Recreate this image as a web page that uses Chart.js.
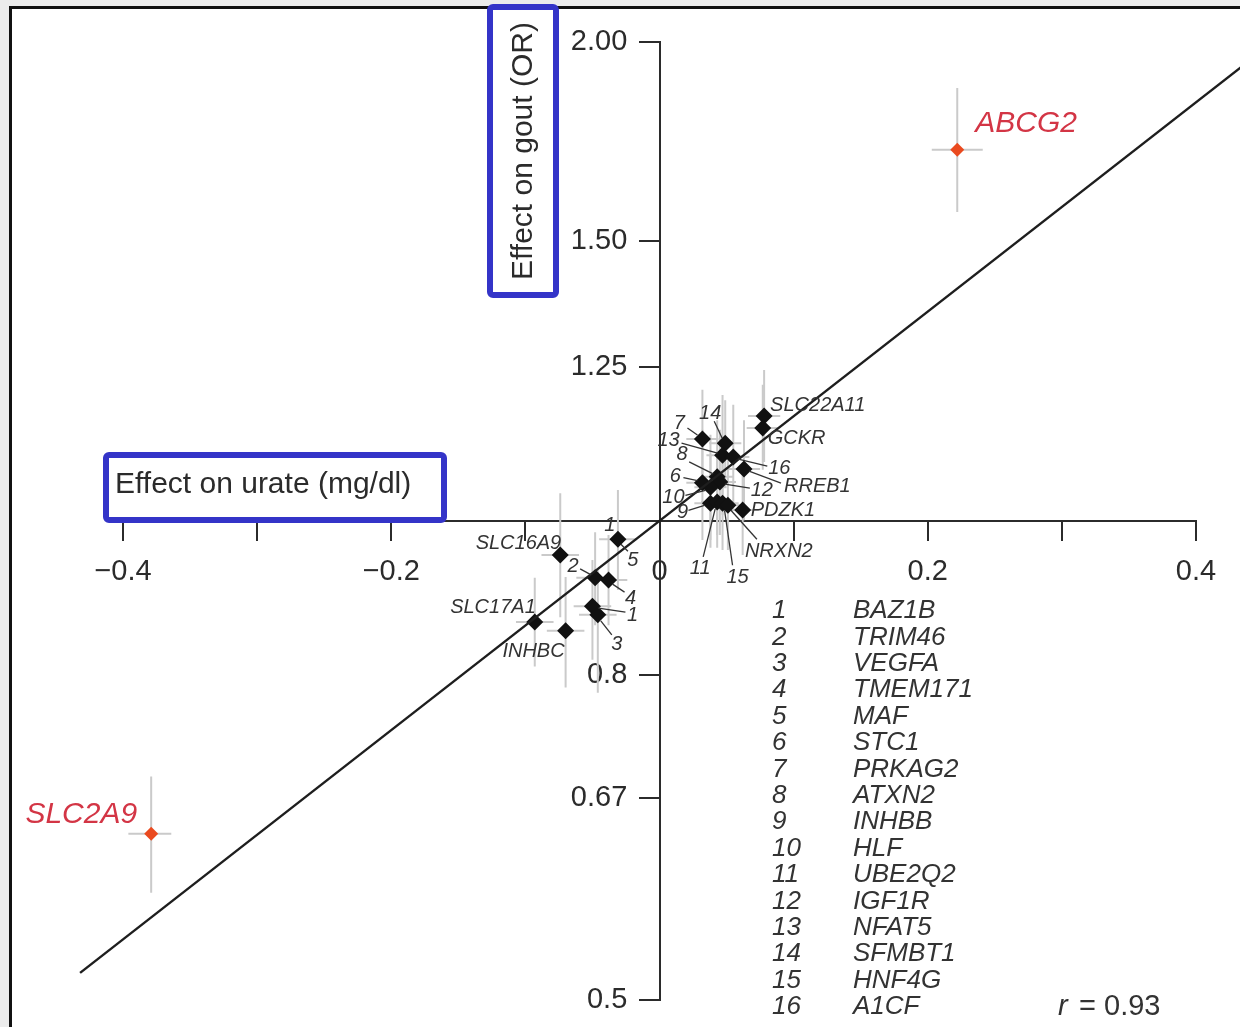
<!DOCTYPE html>
<html>
<head>
<meta charset="utf-8">
<title>Urate vs gout</title>
<script src="https://cdn.jsdelivr.net/npm/chart.js@4.4.1/dist/chart.umd.min.js"></script>
<style>
  html, body { margin: 0; padding: 0; background: #ececec; overflow: hidden; }
  #paper { position: absolute; left: 9px; top: 6px; width: 1240px; height: 1030px; background: #fff;
           border-left: 3px solid #111; border-top: 3px solid #111; }
  #wrap { position: absolute; left: 0; top: 0; width: 1240px; height: 1027px; }
</style>
</head>
<body>
<div id="paper"></div>
<div id="wrap"><canvas id="gout"></canvas></div>
<script>
// loci (black diamonds)
const genes   = ['SLC22A11','GCKR','PRKAG2','SFMBT1','NFAT5','A1CF','RREB1','ATXN2','STC1','IGF1R','HLF','INHBB',
                 'UBE2Q2','HNF4G','NRXN2','PDZK1','MAF','SLC16A9','TRIM46','TMEM171','BAZ1B','VEGFA','SLC17A1','INHBC'];
const urate   = [0.078, 0.077, 0.032, 0.049, 0.047, 0.055, 0.063, 0.043, 0.032, 0.045, 0.038, 0.038,
                 0.043, 0.047, 0.051, 0.062, -0.031, -0.074, -0.048, -0.038, -0.050, -0.046, -0.093, -0.070];
const goutOR  = [1.164, 1.144, 1.126, 1.119, 1.100, 1.097, 1.078, 1.066, 1.057, 1.058, 1.050, 1.026,
                 1.028, 1.026, 1.023, 1.016, 0.974, 0.952, 0.921, 0.918, 0.884, 0.873, 0.864, 0.853];
const orLo    = [1.089, 1.077, 1.046, 1.050, 1.009, 1.016, 1.001, 0.980, 0.973, 0.980, 0.973, 0.962,
                 0.962, 0.959, 0.959, 0.952, 0.905, 0.870, 0.860, 0.860, 0.818, 0.780, 0.810, 0.786];
const orHi    = [1.244, 1.218, 1.209, 1.191, 1.200, 1.183, 1.157, 1.157, 1.141, 1.141, 1.133, 1.100,
                 1.100, 1.100, 1.092, 1.084, 1.046, 1.041, 0.984, 0.980, 0.945, 0.932, 0.921, 0.922];
const urateLo = [0.066, 0.065, 0.020, 0.037, 0.035, 0.043, 0.051, 0.031, 0.020, 0.033, 0.026, 0.026,
                 0.031, 0.035, 0.039, 0.050, -0.045, -0.088, -0.062, -0.052, -0.064, -0.060, -0.107, -0.084];
const urateHi = [0.090, 0.089, 0.044, 0.061, 0.059, 0.067, 0.075, 0.055, 0.044, 0.057, 0.050, 0.050,
                 0.055, 0.059, 0.063, 0.074, -0.017, -0.060, -0.034, -0.024, -0.036, -0.032, -0.079, -0.056];

// the two big loci (red)
const majorGenes = ['ABCG2', 'SLC2A9'];
const majorUrate = [0.222, -0.379];
const majorOR    = [1.711, 0.636];
const majorORLo  = [1.564, 0.584];
const majorORHi  = [1.871, 0.691];
const majorULo   = [0.203, -0.396];
const majorUHi   = [0.241, -0.364];

// fitted line
const fitX  = [-0.432, 0.44];
const fitOR = [0.520, 1.947];

// axes
const xTicks = [-0.4, -0.3, -0.2, -0.1, 0, 0.1, 0.2, 0.3, 0.4];
const xTickLabels = ['\u22120.4', '', '\u22120.2', '', '0', '', '0.2', '', '0.4'];
const yTicks = [0.5, 0.67, 0.8, 1.25, 1.5, 2.0];
const yTickLabels = ['0.5', '0.67', '0.8', '1.25', '1.50', '2.00'];

// number key
const keyNo    = ['1','2','3','4','5','6','7','8','9','10','11','12','13','14','15','16'];
const keyGenes = ['BAZ1B','TRIM46','VEGFA','TMEM171','MAF','STC1','PRKAG2','ATXN2','INHBB','HLF',
                  'UBE2Q2','IGF1R','NFAT5','SFMBT1','HNF4G','A1CF'];

// label placement (pixel offsets from the point), leader line offsets [x1,y1,x2,y2]
const callouts = [
  { gene: 'SLC22A11', text: 'SLC22A11', dx: 6, dy: -11, align: 'left' },
  { gene: 'GCKR', text: 'GCKR', dx: 5, dy: 10, align: 'left' },
  { gene: 'PRKAG2', text: '7', dx: -23, dy: -16, line: [-15, -11, -5, -4] },
  { gene: 'SFMBT1', text: '14', dx: -15, dy: -30, line: [-11, -22, -3, -5] },
  { gene: 'NFAT5', text: '13', dx: -54, dy: -15, line: [-41, -12, -5, -2] },
  { gene: 'A1CF', text: '16', dx: 46, dy: 11, line: [5, 2, 34, 9] },
  { gene: 'RREB1', text: 'RREB1', dx: 40, dy: 17, align: 'left', line: [5, 2, 37, 14] },
  { gene: 'ATXN2', text: '8', dx: -35, dy: -22, line: [-28, -15, -4, -3] },
  { gene: 'STC1', text: '6', dx: -27, dy: -6, line: [-19, -5, -5, -2] },
  { gene: 'IGF1R', text: '12', dx: 42, dy: 8, line: [5, 2, 30, 6] },
  { gene: 'HLF', text: '10', dx: -37, dy: 10, line: [-25, 8, -5, 3] },
  { gene: 'INHBB', text: '9', dx: -28, dy: 9, line: [-22, 7, -6, 2] },
  { gene: 'UBE2Q2', text: '11', dx: -17, dy: 67, line: [-14, 55, -2, 7] },
  { gene: 'HNF4G', text: '15', dx: 15, dy: 74, line: [10, 62, 2, 7] },
  { gene: 'NRXN2', text: 'NRXN2', dx: 17, dy: 46, align: 'left', line: [3, 5, 29, 34] },
  { gene: 'PDZK1', text: 'PDZK1', dx: 8, dy: 0, align: 'left' },
  { gene: 'MAF', text: '5', dx: 15, dy: 21, line: [3, 5, 10, 12] },
  { gene: 'MAF', text: '1', dx: -8, dy: -14 },
  { gene: 'SLC16A9', text: 'SLC16A9', dx: 1, dy: -12, align: 'right' },
  { gene: 'TRIM46', text: '2', dx: -22, dy: -11, line: [-15, -9, -4, -3] },
  { gene: 'TMEM171', text: '4', dx: 22, dy: 18, line: [4, 4, 16, 12] },
  { gene: 'BAZ1B', text: '1', dx: 40, dy: 9, line: [6, 2, 33, 6] },
  { gene: 'VEGFA', text: '3', dx: 19, dy: 30, line: [3, 6, 14, 20] },
  { gene: 'SLC17A1', text: 'SLC17A1', dx: 1, dy: -15, align: 'right' },
  { gene: 'INHBC', text: 'INHBC', dx: -1, dy: 21, align: 'right' }
];
const majorCallouts = [
  { text: 'ABCG2', dx: 18, dy: -26, align: 'left' },
  { text: 'SLC2A9', dx: -14, dy: -19, align: 'right' }
];

const FONT = '"Liberation Sans", Arial, Helvetica, sans-serif';
const ink = '#2b2b2b';

// error bars under the points
const errorBars = {
  id: 'errorBars',
  beforeDatasetsDraw(chart) {
    const { ctx, scales: { x, y } } = chart;
    ctx.save();
    ctx.strokeStyle = '#cacaca';
    ctx.lineWidth = 2;
    const bars = (u, g, uL, uH, gL, gH) => {
      u.forEach((v, i) => {
        const px = x.getPixelForValue(v), py = y.getPixelForValue(g[i]);
        ctx.beginPath();
        ctx.moveTo(px, y.getPixelForValue(gL[i]));
        ctx.lineTo(px, y.getPixelForValue(gH[i]));
        ctx.moveTo(x.getPixelForValue(uL[i]), py);
        ctx.lineTo(x.getPixelForValue(uH[i]), py);
        ctx.stroke();
      });
    };
    bars(urate, goutOR, urateLo, urateHi, orLo, orHi);
    bars(majorUrate, majorOR, majorULo, majorUHi, majorORLo, majorORHi);
    ctx.restore();
  }
};

// gene labels + leader lines
const geneLabels = {
  id: 'geneLabels',
  afterDatasetsDraw(chart) {
    const ctx = chart.ctx;
    const pts = chart.getDatasetMeta(1).data;
    const big = chart.getDatasetMeta(2).data;
    ctx.save();
    ctx.textBaseline = 'middle';
    ctx.strokeStyle = '#333';
    ctx.lineWidth = 1.3;
    ctx.fillStyle = '#333';
    ctx.font = 'italic 20px ' + FONT;
    callouts.forEach(c => {
      const p = pts[genes.indexOf(c.gene)];
      if (c.line) {
        ctx.beginPath();
        ctx.moveTo(p.x + c.line[0], p.y + c.line[1]);
        ctx.lineTo(p.x + c.line[2], p.y + c.line[3]);
        ctx.stroke();
      }
      ctx.textAlign = c.align || 'center';
      ctx.fillText(c.text, p.x + c.dx, p.y + c.dy);
    });
    ctx.fillStyle = '#d33545';
    ctx.font = 'italic 30px ' + FONT;
    majorCallouts.forEach((c, i) => {
      const p = big[i];
      ctx.textAlign = c.align;
      ctx.fillText(c.text, p.x + c.dx, p.y + c.dy);
    });
    ctx.restore();
  }
};

// axis titles in blue boxes, key and r
const extras = {
  id: 'extras',
  afterDraw(chart) {
    const ctx = chart.ctx;
    ctx.save();
    const box = (x, y, w, h) => {
      ctx.fillStyle = '#fff';
      ctx.fillRect(x, y, w, h);
      ctx.strokeStyle = '#3434c8';
      ctx.lineWidth = 6;
      ctx.beginPath();
      if (ctx.roundRect) ctx.roundRect(x, y, w, h, 3); else ctx.rect(x, y, w, h);
      ctx.stroke();
    };
    box(490, 7, 66, 288);
    box(106, 455, 338, 65);
    ctx.fillStyle = ink;
    ctx.font = '30px ' + FONT;
    ctx.textBaseline = 'middle';
    ctx.textAlign = 'left';
    ctx.fillText('Effect on urate (mg/dl)', 115, 485);
    ctx.save();
    ctx.translate(524, 151);
    ctx.rotate(-Math.PI / 2);
    ctx.textAlign = 'center';
    ctx.fillText('Effect on gout (OR)', 0, 0);
    ctx.restore();

    ctx.font = 'italic 26px ' + FONT;
    ctx.fillStyle = '#333';
    keyNo.forEach((n, i) => {
      const yy = 611 + i * 26.4;
      ctx.fillText(n, 772, yy);
      ctx.fillText(keyGenes[i], 853, yy);
    });
    ctx.font = 'italic 29px ' + FONT;
    ctx.fillText('r', 1058, 1007);
    ctx.font = '29px ' + FONT;
    ctx.fillText(' = 0.93', 1071, 1007);
    ctx.restore();
  }
};

const axisFont = { family: FONT, size: 29 };

new Chart(document.getElementById('gout'), {
  type: 'scatter',
  data: {
    datasets: [
      {
        label: 'fit',
        data: fitX.map((v, i) => ({ x: v, y: fitOR[i] })),
        showLine: true,
        borderColor: '#1e1e1e',
        borderWidth: 2.4,
        pointRadius: 0,
        clip: false
      },
      {
        label: 'loci',
        data: urate.map((v, i) => ({ x: v, y: goutOR[i] })),
        pointStyle: 'rectRot',
        pointRadius: 8.5,
        backgroundColor: '#111',
        borderColor: '#111',
        borderWidth: 0,
        clip: false
      },
      {
        label: 'major',
        data: majorUrate.map((v, i) => ({ x: v, y: majorOR[i] })),
        pointStyle: 'rectRot',
        pointRadius: 7,
        backgroundColor: '#ea4a1f',
        borderColor: '#ea4a1f',
        borderWidth: 0,
        clip: false
      }
    ]
  },
  options: {
    responsive: true,
    maintainAspectRatio: false,
    animation: false,
    events: [],
    layout: { padding: { left: 123, right: 44, top: 42, bottom: 27 } },
    plugins: { legend: { display: false }, tooltip: { enabled: false } },
    scales: {
      x: {
        type: 'linear',
        min: -0.4,
        max: 0.4,
        position: { y: 1 },
        afterBuildTicks: s => { s.ticks = xTicks.map(v => ({ value: v })); },
        ticks: {
          callback: (v, i) => xTickLabels[i],
          autoSkip: false,
          maxRotation: 0,
          padding: 15,
          color: ink,
          font: axisFont
        },
        grid: { drawOnChartArea: false, tickLength: 19, color: ink, lineWidth: 2 },
        border: { color: ink, width: 2 }
      },
      y: {
        type: 'logarithmic',
        min: 0.5,
        max: 2.0,
        position: { x: 0 },
        afterBuildTicks: s => { s.ticks = yTicks.map(v => ({ value: v })); },
        ticks: {
          // labels of a value-positioned y axis sit on the axis line; trailing spaces push them left of the ticks
          callback: (v, i) => yTickLabels[i] + '    ',
          autoSkip: false,
          color: ink,
          font: axisFont
        },
        grid: { drawOnChartArea: false, tickLength: 20, color: ink, lineWidth: 2 },
        border: { color: ink, width: 2 }
      }
    }
  },
  plugins: [errorBars, geneLabels, extras]
});
</script>
</body>
</html>
